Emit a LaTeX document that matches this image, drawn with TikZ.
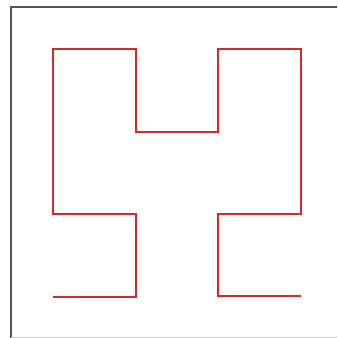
\documentclass[tikz,border=0pt]{standalone}
\usetikzlibrary{calc}
\definecolor{Frame}{HTML}{555555}
\definecolor{FrameLight}{HTML}{C8C8C8}
\definecolor{Curve}{HTML}{D42A2A}

\begin{document}
\begin{tikzpicture}[
  x=0.03cm,y=-0.03cm,
  frame/.style={draw=Frame,line width=1.6pt},
  framelight/.style={draw=FrameLight,line width=0.8pt},
  curve/.style={draw=Curve,line width=1.4pt,line join=miter}
]
  \path[use as bounding box] (0,0) rectangle (337,338);

  % frame
  \draw[frame] (11,338) -- (11,7) -- (337,7);
  \draw[framelight] (11,337) -- (337,337);

  % curve corners
  \coordinate (p1) at (53,297);
  \coordinate (p2) at (136,297);
  \coordinate (p3) at (136,214);
  \coordinate (p4) at (53,214);
  \coordinate (p5) at (53,49);
  \coordinate (p6) at (136,49);
  \coordinate (p7) at (136,132);
  \coordinate (p8) at (218,132);
  \coordinate (p9) at (218,49);
  \coordinate (p10) at (301,49);
  \coordinate (p11) at (301,214);
  \coordinate (p12) at (218,214);
  \coordinate (p13) at (218,296);
  \coordinate (p14) at (301,296);

  \draw[curve] (p1) -- (p2) -- (p3) -- (p4) -- (p5) -- (p6) -- (p7)
    -- (p8) -- (p9) -- (p10) -- (p11) -- (p12) -- (p13) -- (p14);
\end{tikzpicture}
\end{document}
